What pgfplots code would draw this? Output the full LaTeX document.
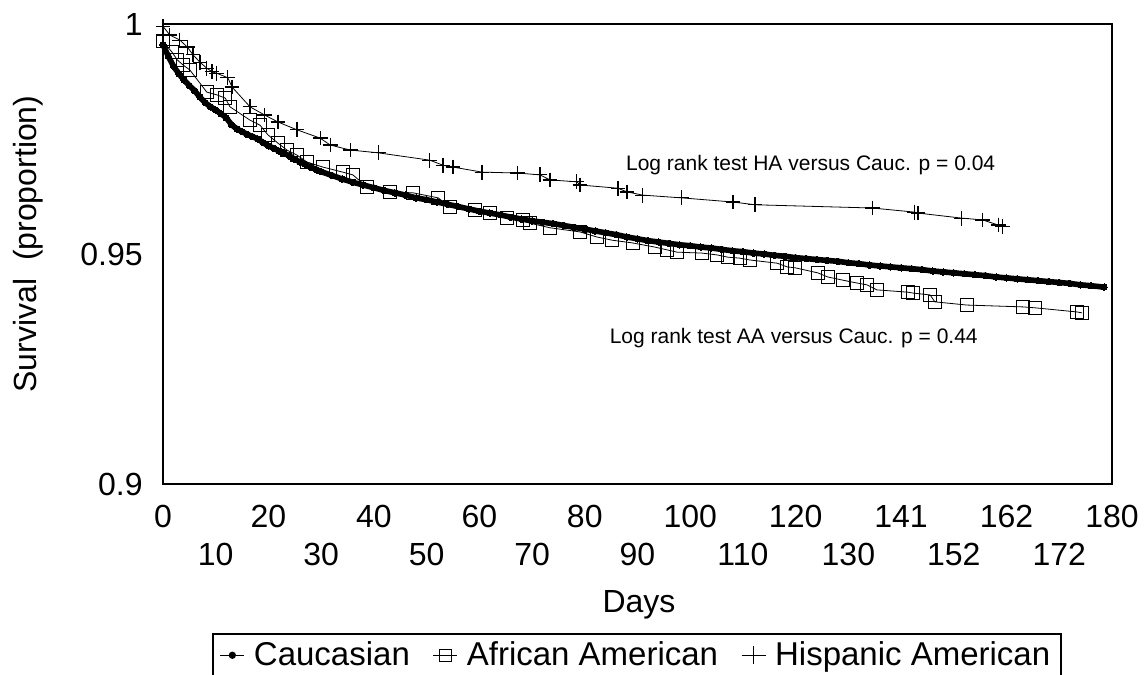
\documentclass[border=0pt]{standalone}
\usepackage{fontspec}
\setmainfont{Liberation Sans}
\usepackage{pgfplots}
\pgfplotsset{compat=1.18}

\begin{document}
\begin{tikzpicture}
\begin{axis}[
  scale only axis, width=474.5pt, height=230pt,
  xmin=0, xmax=180, ymin=0.9, ymax=1,
  clip=false,
  axis line style={line width=1pt},
  tick style={draw=none},
  major tick length=0pt,
  xtick={0,20,...,180},
  xticklabels={0,20,40,60,80,100,120,141,162,180},
  extra x ticks={10,30,...,170},
  extra x tick labels={10,30,50,70,90,110,130,152,172},
  extra x tick style={xticklabel style={yshift=-19pt}},
  xticklabel style={anchor=center, yshift=-16pt, font=\fontsize{16}{19}\selectfont},
  ytick={0.9,0.95,1},
  yticklabels={0.9,0.95,1},
  yticklabel style={anchor=east, inner sep=0pt, xshift=-10pt, font=\fontsize{16}{19}\selectfont},
  xlabel={Days},
  ylabel={Survival\ \ (proportion)},
  label style={font=\fontsize{16}{19}\selectfont},
  xlabel style={at={(axis description cs:0.5016,-0.263)}, anchor=center},
  ylabel style={at={(axis description cs:-0.1422,0.5217)}, anchor=center},
  legend columns=3,
  legend style={at={(axis description cs:0.0516,-0.3239)}, anchor=north west,
    draw=black, line width=0.8pt, font=\fontsize{16.5}{19}\selectfont,
    inner xsep=3.5pt, inner ysep=2pt,
    /tikz/every odd column/.append style={column sep=2.5pt},
    /tikz/every even column/.append style={column sep=9.5pt}},
]
% African American
\addplot[black, line width=0.4pt, mark=square, mark size=3.2pt, mark options={line width=0.6pt, fill=none}, forget plot] table {
x y
0 0.9962
1.7 0.9939
2.7 0.9922
3.8 0.9911
5.1 0.9900
8.3 0.9852
10.2 0.9846
11.8 0.9839
12.7 0.9820
16.5 0.9791
18.4 0.9780
19.9 0.9759
21.8 0.9741
23.5 0.9726
25.4 0.9715
27.3 0.9700
30.3 0.9689
34.1 0.9678
36.0 0.9672
38.7 0.9646
43.1 0.9635
47.4 0.9633
52.2 0.9622
54.4 0.9602
59.2 0.9596
62.0 0.9589
65.2 0.9578
68.3 0.9574
69.6 0.9567
73.4 0.9557
79.1 0.9548
82.3 0.9537
85.2 0.9530
89.1 0.9524
93.3 0.9515
95.6 0.9509
97.5 0.9504
102.2 0.9502
105.1 0.9498
107.2 0.9493
109.4 0.9491
111.3 0.9487
116.5 0.9480
118.4 0.9472
119.9 0.9470
124.2 0.9459
126.1 0.9450
129.0 0.9443
131.6 0.9437
133.5 0.9433
135.4 0.9422
141.3 0.9417
142.3 0.9415
145.5 0.9411
146.4 0.9396
152.5 0.9389
163.1 0.9385
165.4 0.9383
173.4 0.9374
174.3 0.9372
};
% Caucasian
\addplot[black, line width=2.8pt, mark=*, mark size=1.6pt, mark options={line width=0pt}, forget plot] table {
x y
0 0.9955
1 0.9930
2 0.9908
3 0.9892
4 0.9878
5 0.9866
6 0.9855
7 0.9841
8 0.9829
9 0.9820
10 0.9813
11 0.9805
12 0.9796
13 0.9781
14 0.9772
15 0.9766
16 0.9760
17 0.9755
18 0.9750
19 0.9742
20 0.9735
21 0.9730
22 0.9724
23 0.9719
24 0.9713
25 0.9706
26 0.9700
27 0.9695
28 0.9689
29 0.9684
30 0.9679
32 0.9671
34 0.9663
36 0.9656
38 0.9650
40 0.9644
42 0.9638
44 0.9633
46 0.9628
48 0.9622
50 0.9618
52 0.9613
54 0.9608
56 0.9603
58 0.9598
60 0.9593
62 0.9589
64 0.9585
66 0.9580
68 0.9576
70 0.9572
72 0.9569
74 0.9566
76 0.9562
78 0.9558
80 0.9554
82 0.9550
84 0.9546
86 0.9542
88 0.9537
90 0.9533
92 0.9529
94 0.9526
96 0.9523
98 0.9520
100 0.9518
102 0.9515
104 0.9513
106 0.9510
108 0.9507
110 0.9505
112 0.9502
114 0.9500
116 0.9497
118 0.9495
120 0.9492
122 0.9490
124 0.9488
126 0.9486
128 0.9484
130 0.9481
132 0.9479
134 0.9476
136 0.9474
138 0.9472
140 0.9470
142 0.9468
144 0.9466
146 0.9463
148 0.9461
150 0.9459
152 0.9457
154 0.9455
156 0.9453
158 0.9450
160 0.9448
162 0.9446
164 0.9444
166 0.9442
168 0.9440
170 0.9438
172 0.9436
174 0.9433
176 0.9431
178.5 0.9428
};
% Hispanic American
\addplot[black, line width=0.4pt, mark=+, mark size=3.7pt, mark options={line width=0.6pt}, forget plot] table {
x y
0 0.9995
1.3 0.9976
3.2 0.9965
4.6 0.9950
5.7 0.9933
7.0 0.9917
8.3 0.9904
9.3 0.9896
10.2 0.9893
12.3 0.9883
13.1 0.9863
16.5 0.9820
19.3 0.9802
21.8 0.9787
25.4 0.9770
29.8 0.9752
31.7 0.9737
35.5 0.9726
40.8 0.9720
50.6 0.9704
53.1 0.9693
55.0 0.9689
60.5 0.9678
67.3 0.9676
71.5 0.9672
73.4 0.9661
78.5 0.9657
79.1 0.9650
86.3 0.9643
88.0 0.9635
91.0 0.9628
98.4 0.9622
108.1 0.9613
112.3 0.9607
134.5 0.9600
142.6 0.9591
143.2 0.9589
151.5 0.9578
155.5 0.9574
158.4 0.9563
159.3 0.9559
};
\addlegendimage{legend image code/.code={
  \draw[black, line width=0.6pt] (0pt,0pt) -- (12pt,0pt);
  \fill[black] (6pt,0pt) circle (1.4pt);}}
\addlegendentry{Caucasian}
\addlegendimage{legend image code/.code={
  \draw[black, line width=0.5pt] (0pt,0pt) -- (12pt,0pt);
  \draw[black, line width=0.5pt] (3pt,-3pt) rectangle (9pt,3pt);}}
\addlegendentry{African American}
\addlegendimage{legend image code/.code={
  \draw[black, line width=0.5pt] (0pt,0pt) -- (12pt,0pt);
  \draw[black, line width=0.5pt] (6pt,-4.5pt) -- (6pt,4.5pt);}}
\addlegendentry{Hispanic American}
\node[anchor=base west, font=\fontsize{10.5}{12}\selectfont] at (axis cs:86.5,0.96826) {Log rank test HA versus Cauc. p = 0.04};
\node[anchor=base west, font=\fontsize{10.5}{12}\selectfont] at (axis cs:83.4,0.93065) {Log rank test AA versus Cauc. p = 0.44};
\end{axis}
\pgfresetboundingbox
\path[use as bounding box] ([shift={(-81.5pt,-95.5pt)}]current axis.south west) rectangle ++(574pt,337.5pt);
\end{tikzpicture}
\end{document}
